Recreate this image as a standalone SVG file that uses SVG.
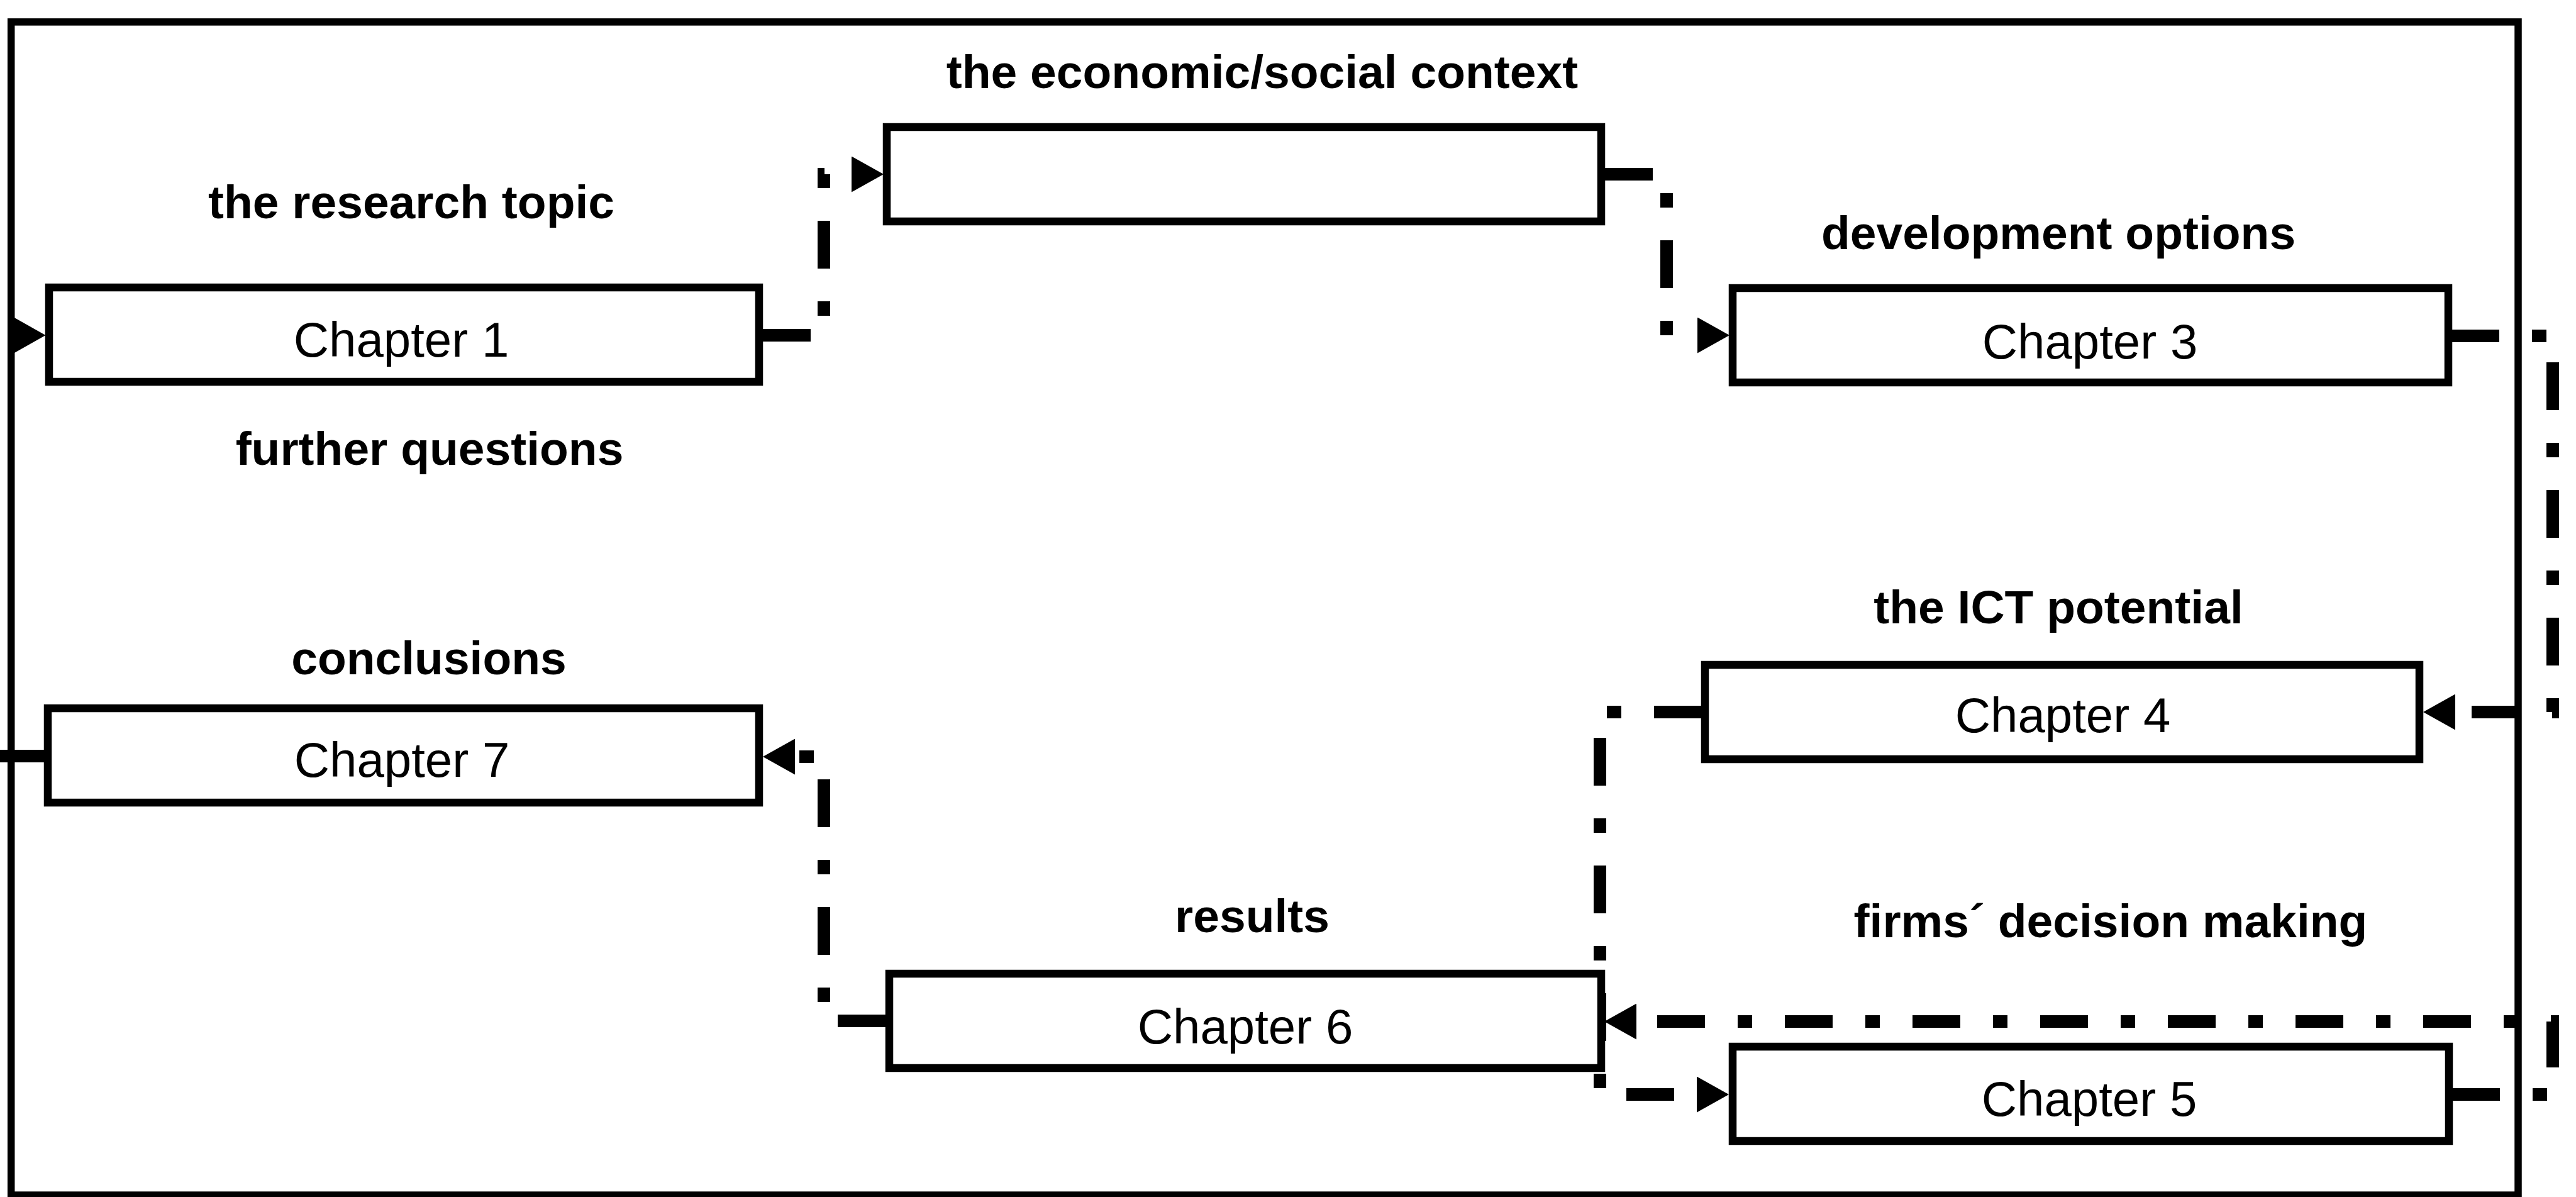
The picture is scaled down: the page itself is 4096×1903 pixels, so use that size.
<svg xmlns="http://www.w3.org/2000/svg" width="4096" height="1903" viewBox="0 0 4096 1903">
  <style>
    .frame { fill: none; stroke: #000; stroke-width: 11.5; }
    .box { fill: #fff; stroke: #000; stroke-width: 12.5; }
    .lbl { font-family: "Liberation Sans", Arial, Helvetica, sans-serif; font-weight: bold; font-size: 75px; fill: #000; text-anchor: middle; }
    .ch { font-family: "Liberation Sans", Arial, Helvetica, sans-serif; font-size: 78px; fill: #000; text-anchor: middle; }
    .conn { fill: none; stroke: #000; stroke-width: 20; stroke-dasharray: 76 52 23 52; stroke-linecap: butt; stroke-linejoin: miter; }
  </style>
  <defs>
    <marker id="arr" markerUnits="userSpaceOnUse" viewBox="0 0 51 57" markerWidth="51" markerHeight="57" refX="0" refY="28.5" orient="auto">
      <path d="M0,0 L51,28.5 L0,57 Z" fill="#000"/>
    </marker>
  </defs>
  <rect x="0" y="0" width="4096" height="1903" fill="#fff"/>
  <rect class="frame" x="17.7" y="34.9" width="3986.3" height="1865.1"/>

  <g id="connectors">
    <path class="conn" d="M1213,533 H1310 V277 H1354" marker-end="url(#arr)"/>
    <path class="conn" d="M2552,277 H2650 V533 H2699" marker-end="url(#arr)"/>
    <path class="conn" d="M3898,534 H4059 V1132 H3904" marker-end="url(#arr)"/>
    <path class="conn" d="M2706,1132 H2544 V1740 H2698" marker-end="url(#arr)"/>
    <path class="conn" d="M3899,1740 H4059 V1624 H2602" marker-end="url(#arr)"/>
    <path class="conn" d="M1408,1623 H1310 V1203 H1264" marker-end="url(#arr)"/>
    <path class="conn" d="M71,1202 H0"/>
    <path d="M22,504.5 L72.5,533 L22,561.5 Z" fill="#000"/>
  </g>

  <g id="node-ch1">
    <text class="lbl" x="654" y="347">the research topic</text>
    <rect class="box" x="78" y="457" width="1129" height="150"/>
    <text class="ch" x="638" y="567">Chapter 1</text>
    <text class="lbl" x="683" y="739">further questions</text>
  </g>
  <g id="node-context">
    <text class="lbl" x="2007" y="140">the economic/social context</text>
    <rect class="box" x="1410" y="202" width="1136" height="150"/>
  </g>
  <g id="node-ch3">
    <text class="lbl" x="3273" y="396">development options</text>
    <rect class="box" x="2755" y="458" width="1138" height="150"/>
    <text class="ch" x="3323" y="570">Chapter 3</text>
  </g>
  <g id="node-ch4">
    <text class="lbl" x="3273" y="991">the ICT potential</text>
    <rect class="box" x="2711" y="1057" width="1136" height="150"/>
    <text class="ch" x="3280" y="1164">Chapter 4</text>
  </g>
  <g id="node-ch5">
    <text class="lbl" x="3356" y="1490">firms´ decision making</text>
    <rect class="box" x="2755" y="1664" width="1139" height="150"/>
    <text class="ch" x="3322" y="1774">Chapter 5</text>
  </g>
  <g id="node-ch6">
    <text class="lbl" x="1991" y="1482">results</text>
    <rect class="box" x="1414" y="1548" width="1132" height="150"/>
    <text class="ch" x="1980" y="1659">Chapter 6</text>
  </g>
  <g id="node-ch7">
    <text class="lbl" x="682" y="1072">conclusions</text>
    <rect class="box" x="76" y="1126" width="1131" height="150"/>
    <text class="ch" x="639" y="1235">Chapter 7</text>
  </g>
</svg>
